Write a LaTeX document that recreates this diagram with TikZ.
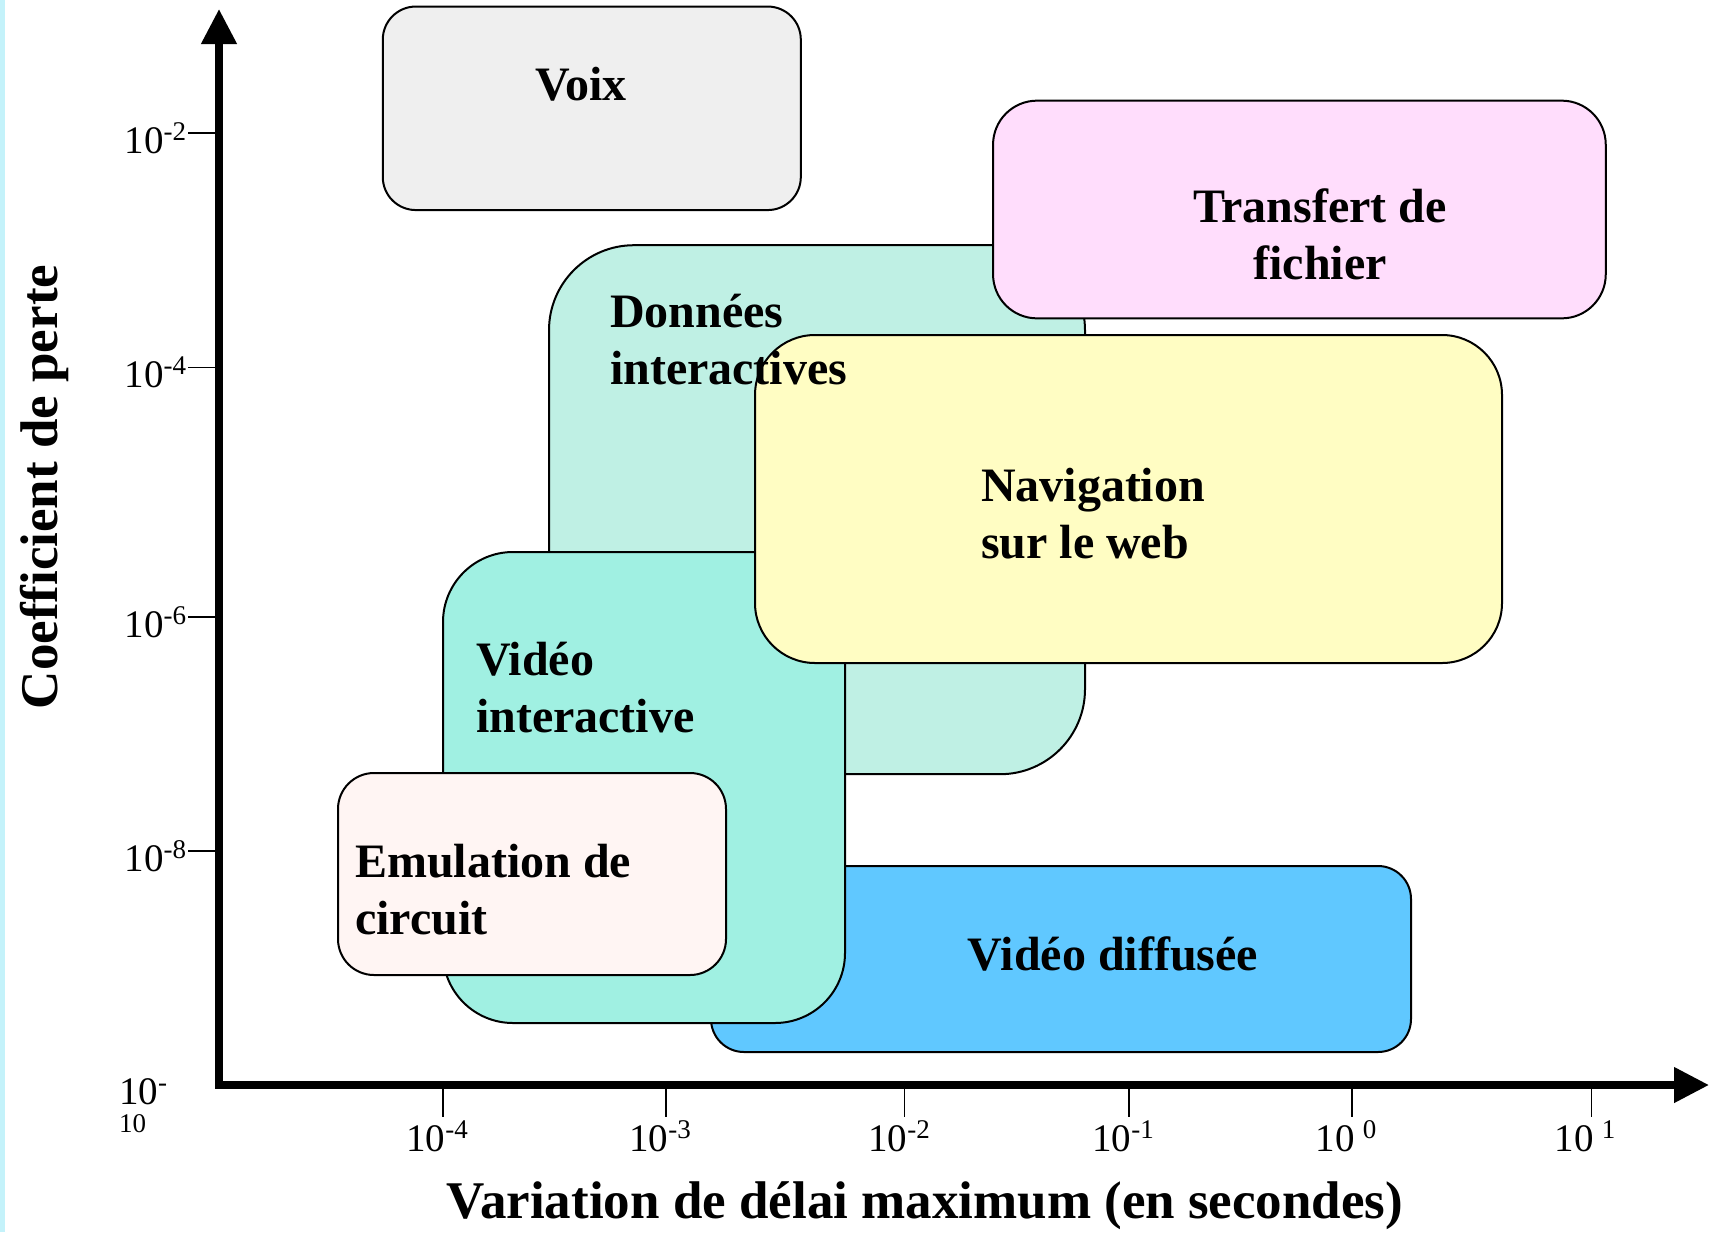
\documentclass[tikz,border=0pt]{standalone}
\usepackage{fontspec}
\setmainfont{Liberation Serif}
\usetikzlibrary{arrows.meta}
\definecolor{stripc}{RGB}{196,242,250}
\definecolor{voixc}{RGB}{239,239,239}
\definecolor{donc}{RGB}{191,240,228}
\definecolor{trc}{RGB}{255,221,252}
\definecolor{navc}{RGB}{255,253,195}
\definecolor{vic}{RGB}{160,240,226}
\definecolor{vdc}{RGB}{96,200,255}
\definecolor{emc}{RGB}{255,245,243}
\newcommand\tickfont{\fontsize{39}{39}\selectfont}
\newcommand\supr[1]{\raisebox{13pt}{\fontsize{27}{27}\selectfont #1}}
\newcommand\boxfont{\bfseries\fontsize{48}{57}\selectfont}
\newcommand\axfont{\bfseries\fontsize{53}{60}\selectfont}
\begin{document}
\begin{tikzpicture}[x=1pt,y=-1pt,
  area/.style={draw=black, line width=2pt, rounded corners=#1, inner sep=0pt, outer sep=0pt},
  lbl/.style={font=\boxfont, inner sep=0pt, outer sep=0pt},
  tk/.style={font=\tickfont, inner sep=0pt, outer sep=0pt},
  tickline/.style={line width=1.6pt},
  axis/.style={line width=7.5pt, line join=miter,
    {Triangle[width=34pt,length=35pt]}-{Triangle[width=34pt,length=35pt]}}]
\useasboundingbox (0,0) rectangle (1715,1232);
\fill[white] (0,0) rectangle (1715,1232);
\fill[stripc] (0,0) rectangle (4.5,1232);

% boxes (back to front)
\node[area=33, fill=voixc, minimum width=418, minimum height=203.5] (voix) at (591.8,108.3) {};
\node[area=85, fill=donc, minimum width=536, minimum height=529] (don) at (817,509.7) {};
\node[area=44, fill=trc, minimum width=612.7, minimum height=217.7] (tr) at (1299.4,209.5) {};
\node[area=33, fill=vdc, minimum width=700, minimum height=186] (vd) at (1061,959) {};
\node[area=70, fill=vic, minimum width=402, minimum height=471] (vi) at (644,787.5) {};
\node[area=60, fill=navc, minimum width=747, minimum height=328] (nav) at (1128.5,499) {};
\node[area=36, fill=emc, minimum width=388, minimum height=202] (em) at (532,874) {};

% labels
\node[lbl, anchor=base] (tvoix) at (581,100.6) {Voix};
\node[lbl, anchor=base] (ttr) at (1320,222) {\begin{tabular}[t]{@{}c@{}}Transfert de\\fichier\end{tabular}};
\node[lbl, anchor=base west] (tdon) at (610,327) {\begin{tabular}[t]{@{}l@{}}Données\\interactives\end{tabular}};
\node[lbl, anchor=base west] (tnav) at (981,501) {\begin{tabular}[t]{@{}l@{}}Navigation\\sur le web\end{tabular}};
\node[lbl, anchor=base west] (tvi) at (476,675) {\begin{tabular}[t]{@{}l@{}}Vidéo\\interactive\end{tabular}};
\node[lbl, anchor=base west] (tem) at (355,877) {\begin{tabular}[t]{@{}l@{}}Emulation de\\circuit\end{tabular}};
\node[lbl, anchor=base] (tvd) at (1113,970) {Vidéo diffusée};

% axes
\coordinate (ytop) at (219,9);
\coordinate (origin) at (219,1085);
\coordinate (xend) at (1709,1085);
\draw[axis] (ytop) -- (origin) -- (xend);

\foreach \y in {133,367.5,617,851} \draw[tickline] (188,\y) -- (215,\y);
\foreach \x in {443,666,904.5,1128.7,1352,1591.4} \draw[tickline] (\x,1088) -- (\x,1117);

\node[tk, anchor=base east] (yt2) at (186,153) {10\supr{-2}};
\node[tk, anchor=base east] (yt4) at (186,387.5) {10\supr{-4}};
\node[tk, anchor=base east] (yt6) at (186,637) {10\supr{-6}};
\node[tk, anchor=base east] (yt8) at (186,871) {10\supr{-8}};
\node[tk, anchor=base west] (yt10) at (119,1104) {\fontsize{39}{28}\selectfont\begin{tabular}[t]{@{}l@{}}10\supr{-}\\\fontsize{27}{27}\selectfont 10\end{tabular}};

\node[tk, anchor=base] (xt4) at (437,1151) {10\supr{-4}};
\node[tk, anchor=base] (xt3) at (660,1151) {10\supr{-3}};
\node[tk, anchor=base] (xt2) at (899,1151) {10\supr{-2}};
\node[tk, anchor=base] (xt1) at (1123,1151) {10\supr{-1}};
\node[tk, anchor=base] (xt0) at (1346,1151) {10\hspace{8pt}\supr{0}};
\node[tk, anchor=base] (xtp1) at (1585,1151) {10\hspace{8pt}\supr{1}};

\node[font=\axfont, anchor=base, inner sep=0pt] (xlabel) at (925,1218) {Variation de délai maximum (en secondes)};
\node[font=\axfont, rotate=90, anchor=base, inner sep=0pt] (ylabel) at (57,487) {Coefficient de perte};
\end{tikzpicture}
\end{document}
